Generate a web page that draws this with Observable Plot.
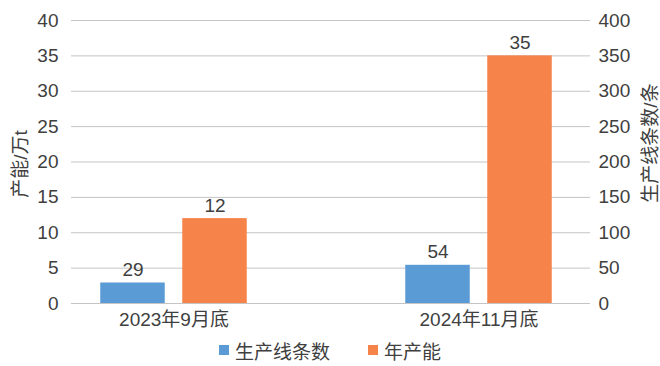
<!DOCTYPE html>
<html>
<head>
<meta charset="utf-8">
<script src="https://cdn.jsdelivr.net/npm/d3@7"></script>
<script src="https://cdn.jsdelivr.net/npm/@observablehq/plot@0.6"></script>
<style>
  html, body { margin: 0; padding: 0; background: #fff; }
  body { width: 660px; height: 366px; overflow: hidden; font-family: "Liberation Sans", "Noto Sans CJK SC", sans-serif; color: #404040; }
  #legend { display: flex; justify-content: center; align-items: center; height: 36px; padding-top: 4px; box-sizing: border-box; font-size: 19px; }
  .item { display: flex; align-items: center; margin: 0 19px; }
  .sw { width: 10px; height: 10px; margin-right: 6px; }
</style>
</head>
<body>
<div id="chart"></div>
<div id="legend"></div>
<script>
const categories = ["2023年9月底", "2024年11月底"];
const lineCounts = [29, 54];      // 生产线条数 (右轴, 条)
const capacities = [12, 35];      // 年产能 (左轴, 万t)
const leftTicks = [0, 5, 10, 15, 20, 25, 30, 35, 40];
const rightTickLabels = [0, 50, 100, 150, 200, 250, 300, 350, 400];
const seriesNames = ["生产线条数", "年产能"];
const colors = ["#5b9bd5", "#f5834a"];

const lineData = categories.map((c, i) => ({cat: c, value: lineCounts[i]}));
const capData = categories.map((c, i) => ({cat: c, value: capacities[i]}));
const ratio = 10; // right axis = left axis × 10

const font = '"Liberation Sans", "Noto Sans CJK SC", sans-serif';

const chart = Plot.plot({
  width: 660,
  height: 330,
  marginLeft: 71,
  marginRight: 70,
  marginTop: 20,
  marginBottom: 27,
  style: {fontSize: "19px", fontFamily: font, color: "#404040", background: "#fff"},
  x: {type: "band", domain: categories, range: [20.75, 631.75], padding: 0},
  y: {domain: [0, 40]},
  marks: [
    Plot.ruleY(leftTicks, {stroke: "#c4c4c4", strokeWidth: 1}),
    Plot.barY(lineData, {x: "cat", y: d => d.value / ratio, fill: colors[0], insetLeft: 79.25, insetRight: 161.25}),
    Plot.barY(capData, {x: "cat", y: "value", fill: colors[1], insetLeft: 161.25, insetRight: 79.25}),
    Plot.text(lineData, {x: "cat", y: d => d.value / ratio, text: d => String(d.value), dx: -41, dy: -13, fill: "#404040", fontSize: 19}),
    Plot.text(capData, {x: "cat", y: "value", text: d => String(d.value), dx: 41, dy: -13, fill: "#404040", fontSize: 19}),
    Plot.axisX({tickSize: 0, tickPadding: 9, label: null, fontSize: 19}),
    Plot.axisY({anchor: "left", ticks: leftTicks, tickSize: 0, tickPadding: 13, label: null, fontSize: 19}),
    Plot.axisY({anchor: "right", ticks: leftTicks, tickFormat: (d) => String(rightTickLabels[leftTicks.indexOf(d)]), tickSize: 0, tickPadding: 8, label: null, fontSize: 19}),
    Plot.text(["产能/万t"], {frameAnchor: "left", textAnchor: "middle", lineAnchor: "middle", dx: -51, dy: 2, rotate: -90, fill: "#404040", fontSize: 19}),
    Plot.text(["生产线条数/条"], {frameAnchor: "right", textAnchor: "middle", lineAnchor: "middle", dx: 60, dy: -19, rotate: -90, fill: "#404040", fontSize: 19})
  ]
});
document.getElementById("chart").appendChild(chart);

const legend = document.getElementById("legend");
seriesNames.forEach((name, i) => {
  const item = document.createElement("div");
  item.className = "item";
  const sw = document.createElement("div");
  sw.className = "sw";
  sw.style.background = colors[i];
  const label = document.createElement("span");
  label.textContent = name;
  item.appendChild(sw);
  item.appendChild(label);
  legend.appendChild(item);
});
</script>
</body>
</html>
